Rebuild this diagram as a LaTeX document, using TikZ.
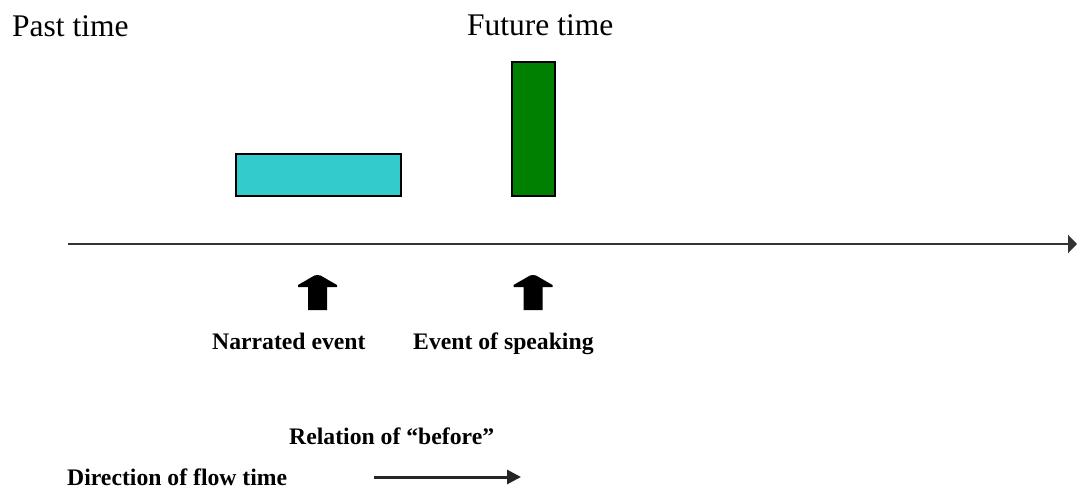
\documentclass[tikz,border=0pt]{standalone}
\usepackage{fontspec}
\setmainfont{Liberation Serif}
\usetikzlibrary{arrows.meta}
\definecolor{evcyan}{HTML}{33CCCC}
\definecolor{evgreen}{HTML}{008000}
\begin{document}
\begin{tikzpicture}[x=1pt,y=-1pt,
  bigtext/.style={inner sep=0pt,anchor=base west,font=\fontsize{31.5}{36}\selectfont},
  boldtext/.style={inner sep=0pt,anchor=base west,font=\fontsize{23.7}{28}\selectfont\bfseries},
  eventbox/.style={draw=black,line width=1.6pt},
  timeline/.style={draw=black!80,line width=2.5pt,-{Triangle[length=9pt,width=18pt]}},
  relarrow/.style={draw=black!85,line width=3pt,-{Triangle[length=14pt,width=14pt]}},
  uparrow/.pic={\fill[black] (-9.5,35) -- (-9.5,12) -- (-19.5,12) -- (-19.5,10) -- (-3,0.5) -- (0,0) -- (3,0.5) -- (19.5,10) -- (19.5,12) -- (9.5,12) -- (9.5,35) -- cycle;}
]
\useasboundingbox (0,0) rectangle (1077,488);

\node[bigtext] (past) at (12,36) {Past time};
\node[bigtext] (future) at (467,35) {Future time};

\path[eventbox,fill=evcyan] (236,154) rectangle (401,196);
\node[inner sep=0pt,minimum width=165pt,minimum height=42pt] (narr) at (318.5,175) {};
\path[eventbox,fill=evgreen] (512,62) rectangle (555,196);
\node[inner sep=0pt,minimum width=43pt,minimum height=134pt] (speak) at (533.5,129) {};

\coordinate (tlstart) at (68,244);
\coordinate (tlend) at (1077,244);
\draw[timeline] (tlstart) -- (tlend);

\pic at (317.5,275) {uparrow};
\pic at (533,275) {uparrow};

\node[boldtext] (narrlab) at (212,349) {Narrated event};
\node[boldtext] (speaklab) at (413,349) {Event of speaking};

\node[boldtext] (rel) at (289,444) {Relation of “before”};
\node[boldtext] (dir) at (67,485) {Direction of flow time};

\coordinate (rastart) at (374,477);
\coordinate (raend) at (521,477);
\draw[relarrow] (rastart) -- (raend);
\end{tikzpicture}
\end{document}
